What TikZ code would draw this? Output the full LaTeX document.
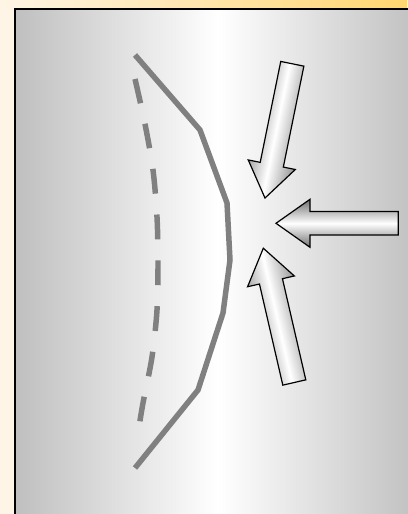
\documentclass[tikz,border=0pt]{standalone}
\usetikzlibrary{arrows.meta}
\definecolor{paper}{RGB}{255,245,230}
\definecolor{barc}{RGB}{255,214,112}
\definecolor{wallc}{RGB}{191,191,191}
\definecolor{linec}{RGB}{128,128,128}
\definecolor{pushc}{RGB}{112,112,112}
\newcommand{\SW}{11.8}
\newcommand{\HW}{24}
\newcommand{\HL}{34}
% block arrow: tail centre (#1,#2), direction #3, shaft length #4
\newcommand{\bArr}[4]{%
  \begin{scope}[shift={(#1,#2)}, rotate=#3]
    \draw[push, shading angle=#3] (0,-\SW) -- (#4,-\SW) -- (#4,-\HW) -- ({#4+\HL},0)
      -- (#4,\HW) -- (#4,\SW) -- (0,\SW) -- cycle;
  \end{scope}}

\begin{document}
\begin{tikzpicture}[x=0.25mm, y=0.25mm,
    frame/.style={draw=black, line width=1.4pt, left color=wallc, right color=wallc, middle color=white},
    front/.style={draw=linec, line width=3.9pt},
    old/.style={draw=linec, line width=3.9pt, dash pattern=on 17.7pt off 14.9pt},
    push/.style={line width=0.85pt, top color=pushc, bottom color=pushc, middle color=white},
  ]
  \useasboundingbox (0,0) rectangle (407,514);

  %% ================= background and frame =================
  \fill[paper] (0,0) rectangle (407,514);
  \shade[left color=paper, right color=barc] (0,505) rectangle (407,514);
  \path[frame] (15,-20) rectangle (421,505);

  %% ================= the two fronts =================
  \draw[old] plot[smooth] coordinates {(135,435) (145,390) (153,344) (157,297)
    (158,251) (157,204) (152,157) (143,111) (139,87)};
  \draw[front] (135,459) -- (200,384) -- (227,311) -- (230,254)
    -- (223,201) -- (198,124) -- (135,46);

  %% ================= pushing arrows =================
  \bArr{292.3}{450.2}{258.5}{103}
  \bArr{398.3}{290.7}{180}{88.3}
  \bArr{294.3}{131.5}{103}{103.8}

\end{tikzpicture}
\end{document}
